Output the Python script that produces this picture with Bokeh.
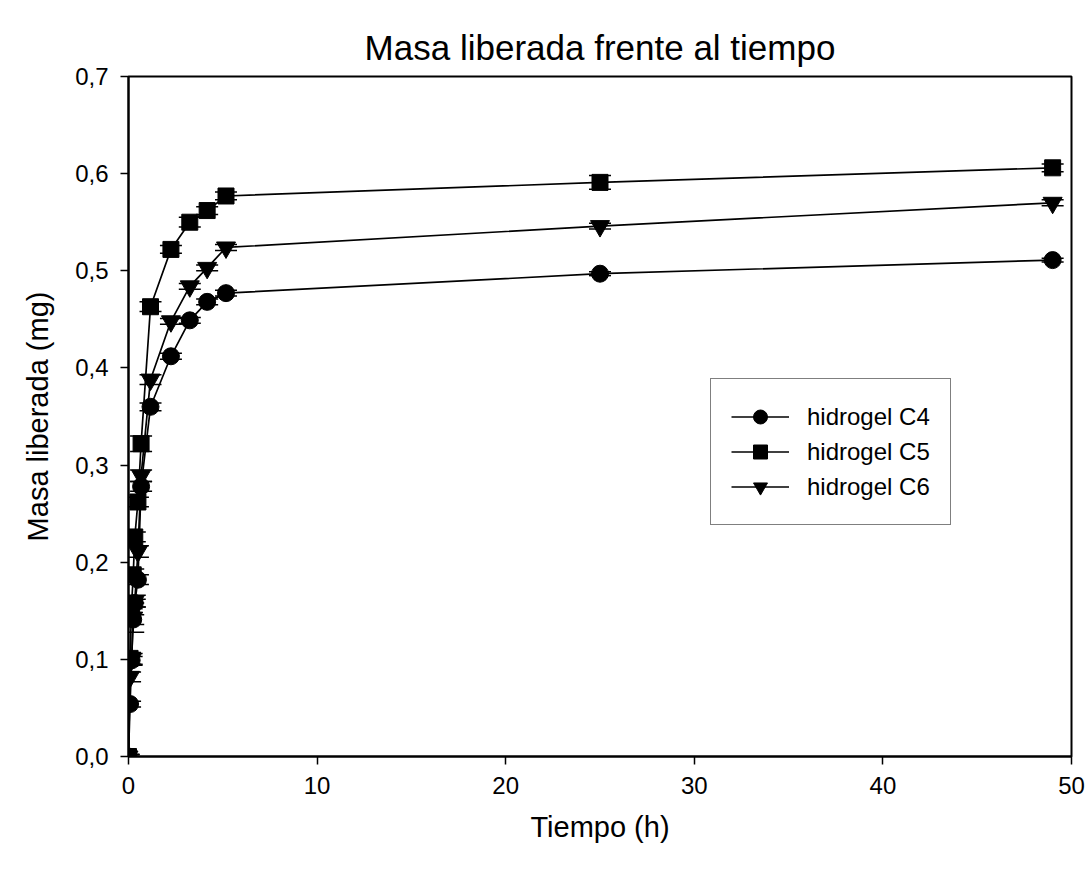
from bokeh.plotting import figure
from bokeh.models import (ColumnDataSource, Whisker, Legend, LegendItem,
                          CustomJSTickFormatter, FixedTicker, Range1d, TeeHead)
from bokeh.embed import file_html
from bokeh.resources import INLINE

# ---- data ----
tiempo = [0, 0.083, 0.167, 0.25, 0.333, 0.5, 0.667, 1.167, 2.25, 3.25, 4.17, 5.17, 25, 49]
c4 = [0, 0.054, 0.099, 0.141, 0.158, 0.182, 0.278, 0.360, 0.412, 0.449, 0.468, 0.477, 0.497, 0.511]
c4_err = [0.002, 0.003, 0.004, 0.005, 0.004, 0.005, 0.005, 0.004, 0.003, 0.003, 0.003, 0.003, 0.002, 0.002]
c5 = [0, 0.101, 0.157, 0.187, 0.226, 0.262, 0.322, 0.463, 0.522, 0.550, 0.562, 0.577, 0.591, 0.606]
c5_err = [0.002, 0.006, 0.005, 0.006, 0.005, 0.005, 0.008, 0.005, 0.004, 0.005, 0.004, 0.004, 0.007, 0.004]
c6 = [0, 0.082, 0.100, 0.143, 0.160, 0.211, 0.289, 0.388, 0.448, 0.484, 0.503, 0.524, 0.546, 0.570]
c6_err = [0.002, 0.005, 0.006, 0.015, 0.006, 0.006, 0.006, 0.005, 0.003, 0.003, 0.003, 0.003, 0.003, 0.003]

series_names = ["hidrogel C4", "hidrogel C5", "hidrogel C6"]
x_ticks = [0, 10, 20, 30, 40, 50]
y_ticks = [0, 0.1, 0.2, 0.3, 0.4, 0.5, 0.6, 0.7]

FONT = "Liberation Sans"

p = figure(width=1092, height=871, output_backend="svg", toolbar_location=None,
           x_range=Range1d(0, 50), y_range=Range1d(0, 0.7),
           min_border_left=128, min_border_right=21, min_border_top=76,
           min_border_bottom=115,
           title="Masa liberada frente al tiempo")
p.title.text_font = FONT
p.title.text_font_size = "35px"
p.title.text_font_style = "normal"
p.title.align = "center"
p.title.standoff = 20
p.title.text_color = "black"

p.xgrid.visible = False
p.ygrid.visible = False
p.outline_line_color = "black"
p.outline_line_width = 2
p.background_fill_color = "white"
p.border_fill_color = "white"

fmt = CustomJSTickFormatter(code="return tick.toFixed(1).replace('.', ',');")
p.yaxis.formatter = fmt
p.xaxis.ticker = FixedTicker(ticks=x_ticks)
p.yaxis.ticker = FixedTicker(ticks=y_ticks)

for ax in (p.xaxis[0], p.yaxis[0]):
    ax.axis_line_color = "black"
    ax.axis_line_width = 2
    ax.major_tick_line_color = "black"
    ax.major_tick_line_width = 1.5
    ax.major_tick_out = 8
    ax.major_tick_in = 0
    ax.minor_tick_line_color = None
    ax.major_label_text_font = FONT
    ax.major_label_text_font_size = "24px"
    ax.major_label_text_color = "black"
    ax.axis_label_text_font = FONT
    ax.axis_label_text_font_size = "29px"
    ax.axis_label_text_font_style = "normal"
    ax.axis_label_text_color = "black"

p.xaxis.axis_label = "Tiempo (h)"
p.yaxis.axis_label = "Masa liberada (mg)"
p.xaxis.major_label_standoff = 12
p.yaxis.major_label_standoff = 12
p.xaxis.axis_label_standoff = 14
p.yaxis.axis_label_standoff = 18

specs = [(c4, c4_err, "circle", 17), (c5, c5_err, "square", 16), (c6, c6_err, "inverted_triangle", 19)]
items = []
for name, (vals, errs, marker, size) in zip(series_names, specs):
    src = ColumnDataSource(dict(x=tiempo, y=vals,
                                upper=[v + e for v, e in zip(vals, errs)],
                                lower=[v - e for v, e in zip(vals, errs)]))
    w = Whisker(source=src, base="x", upper="upper", lower="lower", dimension="height",
                line_color="black", line_width=1.5,
                upper_head=TeeHead(size=22, line_color="black", line_width=1.5),
                lower_head=TeeHead(size=22, line_color="black", line_width=1.5))
    p.add_layout(w)
    ln = p.line("x", "y", source=src, line_color="black", line_width=1.7)
    sc = p.scatter("x", "y", source=src, marker=marker, size=size,
                   fill_color="black", line_color="black")
    items.append(LegendItem(label=name, renderers=[ln, sc]))

legend = Legend(items=items, location=(582, 231))
legend.glyph_width = 58
legend.glyph_height = 35
legend.label_height = 33
legend.label_standoff = 18
legend.spacing = 0
legend.padding = 20
legend.margin = 0
legend.label_text_font = FONT
legend.label_text_font_size = "24px"
legend.label_text_color = "black"
legend.border_line_color = "black"
legend.border_line_width = 1.5
legend.background_fill_color = "white"
p.add_layout(legend, "center")

open("out.html", "w").write(file_html(p, INLINE))
